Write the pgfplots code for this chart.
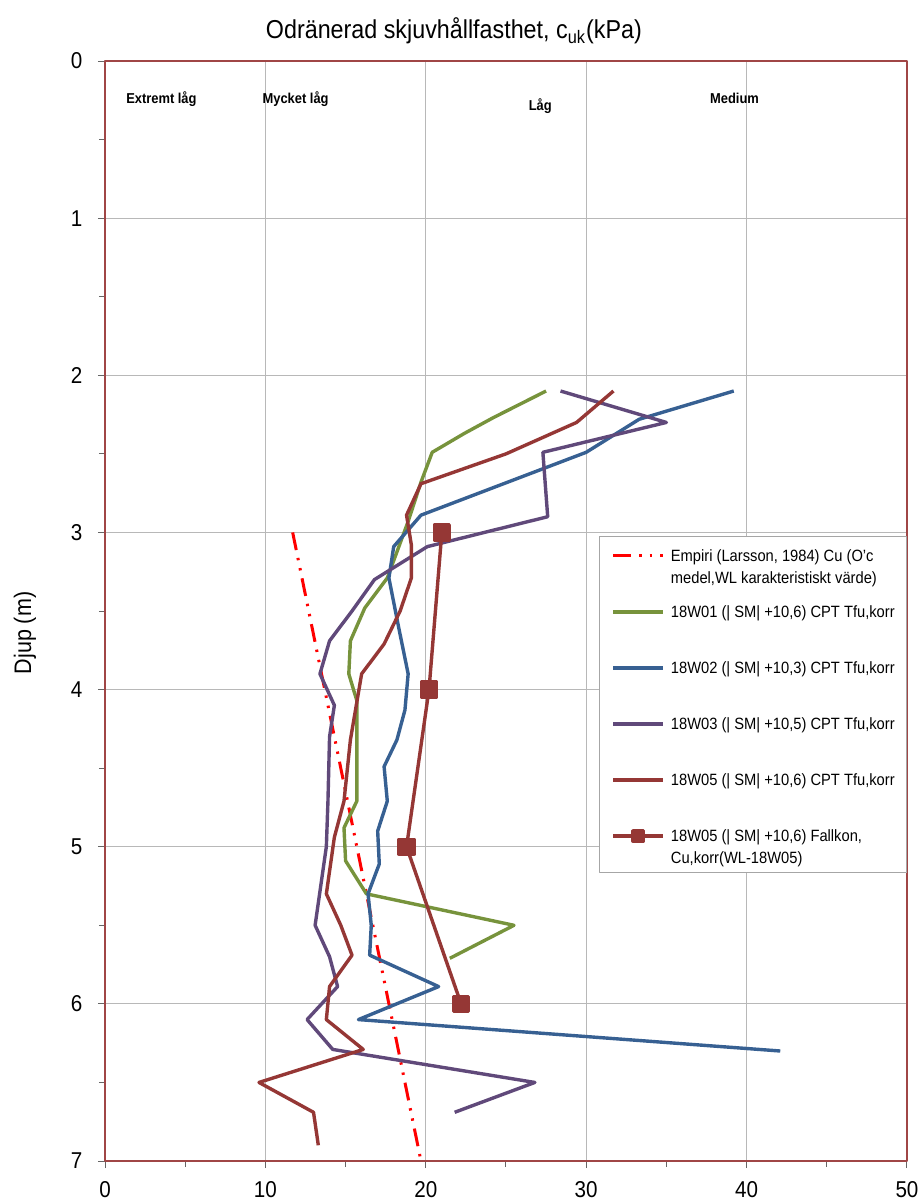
\documentclass[border=0pt]{standalone}
\usepackage{fontspec}
\setmainfont{Liberation Sans}[FakeStretch=0.9]
\usepackage{pgfplots}
\pgfplotsset{compat=1.18}
\definecolor{cgreen}{RGB}{119,147,60}
\definecolor{cblue}{RGB}{55,96,146}
\definecolor{cpurple}{RGB}{96,73,122}
\definecolor{cdred}{RGB}{149,55,53}
\definecolor{cframe}{RGB}{160,70,70}
\newcommand{\catfont}{\fontsize{7.2}{8}\selectfont\bfseries}
\begin{document}
\begin{tikzpicture}
\begin{axis}[
  scale only axis, width=401bp, height=550bp,
  at={(52.5bp,19.5bp)}, anchor=south west,
  xmin=0, xmax=50, ymin=0, ymax=7, y dir=reverse,
  xtick={0,10,...,50}, ytick={0,1,...,7},
  minor xtick={5,15,...,45}, minor ytick={0.5,1.5,...,6.5},
  xtick pos=lower, ytick pos=left,
  tick align=outside, major tick length=3.5bp, minor tick length=3bp,
  tick style={black!60, line width=0.5bp},
  grid=major, major grid style={black!28, line width=0.5bp},
  axis line style={cframe, line width=1bp},
  /pgf/number format/assume math mode=true,
  ticklabel style={font=\fontsize{11.5}{13}\selectfont},
  yticklabel style={xshift=-4.3bp},
  xticklabel style={yshift=-3bp},
  title={Odränerad skjuvhållfasthet, c\textsubscript{uk}(kPa)},
  title style={at={(axis description cs:0.435,1)}, anchor=center, yshift=9bp, font=\fontsize{13}{15}\selectfont},
  ylabel={Djup (m)},
  ylabel style={at={(axis description cs:0,0.48)}, anchor=center, yshift=40bp, font=\fontsize{12}{14}\selectfont},
  legend style={at={(0.616,0.568)}, anchor=north west, draw=black!35, line width=0.5bp,
    inner xsep=6bp, inner ysep=0pt, column sep=3bp, row sep=0pt,
    nodes={anchor=base west, inner ysep=0pt, inner xsep=0pt, text height=12.5bp, text depth=15.5bp},
    font=\fontsize{8.2}{11}\selectfont},
  legend image code/.code={\draw[mark repeat=2,mark phase=2,#1] plot coordinates {(0bp,0bp) (12.5bp,0bp) (25bp,0bp)};},
  legend image post style={yshift=2.9bp, mark size=2.6bp},
  line join=round,
]
\addplot[red, line width=1.5bp, dash pattern=on 9bp off 4bp on 1.2bp off 4bp on 1.2bp off 4bp] coordinates {(11.7,3) (19.7,7)};
\addlegendentry{\begin{tabular}[t]{@{}l@{}}Empiri (Larsson, 1984) Cu (O'c\\medel,WL karakteristiskt värde)\end{tabular}}

\addplot[cgreen, line width=1.7bp] coordinates {
(27.5,2.10)(24.2,2.27)(22.4,2.37)(20.4,2.49)(19.7,2.68)(18.9,2.93)(17.6,3.29)(16.2,3.48)(15.3,3.69)(15.2,3.90)(15.7,4.07)(15.7,4.71)(14.9,4.88)(15.0,5.09)(16.3,5.30)(25.5,5.50)(21.5,5.71)};
\addlegendentry{18W01 (| SM| +10,6) CPT Tfu,korr}

\addplot[cblue, line width=1.7bp] coordinates {
(39.2,2.10)(33.3,2.28)(30.0,2.49)(19.7,2.89)(18.0,3.09)(17.7,3.29)(18.3,3.60)(18.9,3.90)(18.7,4.13)(18.2,4.32)(17.4,4.49)(17.6,4.71)(17.0,4.90)(17.1,5.11)(16.4,5.30)(16.6,5.50)(16.5,5.69)(20.8,5.89)(15.8,6.10)(42.1,6.30)};
\addlegendentry{18W02 (| SM| +10,3) CPT Tfu,korr}

\addplot[cpurple, line width=1.7bp] coordinates {
(28.4,2.10)(35.0,2.30)(27.3,2.49)(27.6,2.90)(20.1,3.09)(16.8,3.30)(15.4,3.50)(14.0,3.69)(13.4,3.90)(14.3,4.10)(14.0,4.30)(13.9,4.71)(13.8,5.00)(13.1,5.50)(14.0,5.70)(14.5,5.89)(12.6,6.10)(14.2,6.29)(26.8,6.50)(21.8,6.69)};
\addlegendentry{18W03 (| SM| +10,5) CPT Tfu,korr}

\addplot[cdred, line width=1.7bp] coordinates {
(31.7,2.10)(29.4,2.30)(25.0,2.50)(19.7,2.69)(18.8,2.89)(19.1,3.08)(19.1,3.29)(18.4,3.50)(17.4,3.71)(16.0,3.90)(15.3,4.32)(14.9,4.71)(14.3,4.94)(13.8,5.30)(14.7,5.50)(15.4,5.69)(14.0,5.89)(13.8,6.10)(16.1,6.29)(9.6,6.50)(13.0,6.69)(13.3,6.90)};
\addlegendentry{18W05 (| SM| +10,6) CPT Tfu,korr}

\addplot[cdred, line width=1.7bp, mark=square*, mark size=3.75bp, mark options={solid}] coordinates {
(21.0,3)(20.2,4)(18.8,5)(22.2,6)};
\addlegendentry{\begin{tabular}[t]{@{}l@{}}18W05 (| SM| +10,6) Fallkon,\\Cu,korr(WL-18W05)\end{tabular}}

\node[anchor=west, inner sep=0pt, font=\catfont] at (axis cs:1.3,0.24) {Extremt låg};
\node[anchor=west, inner sep=0pt, font=\catfont] at (axis cs:9.8,0.24) {Mycket låg};
\node[anchor=west, inner sep=0pt, font=\catfont] at (axis cs:26.4,0.29) {Låg};
\node[anchor=west, inner sep=0pt, font=\catfont] at (axis cs:37.7,0.235) {Medium};
\end{axis}
\pgfresetboundingbox
\path (0,0) rectangle (461.5bp,600bp);
\end{tikzpicture}
\end{document}
